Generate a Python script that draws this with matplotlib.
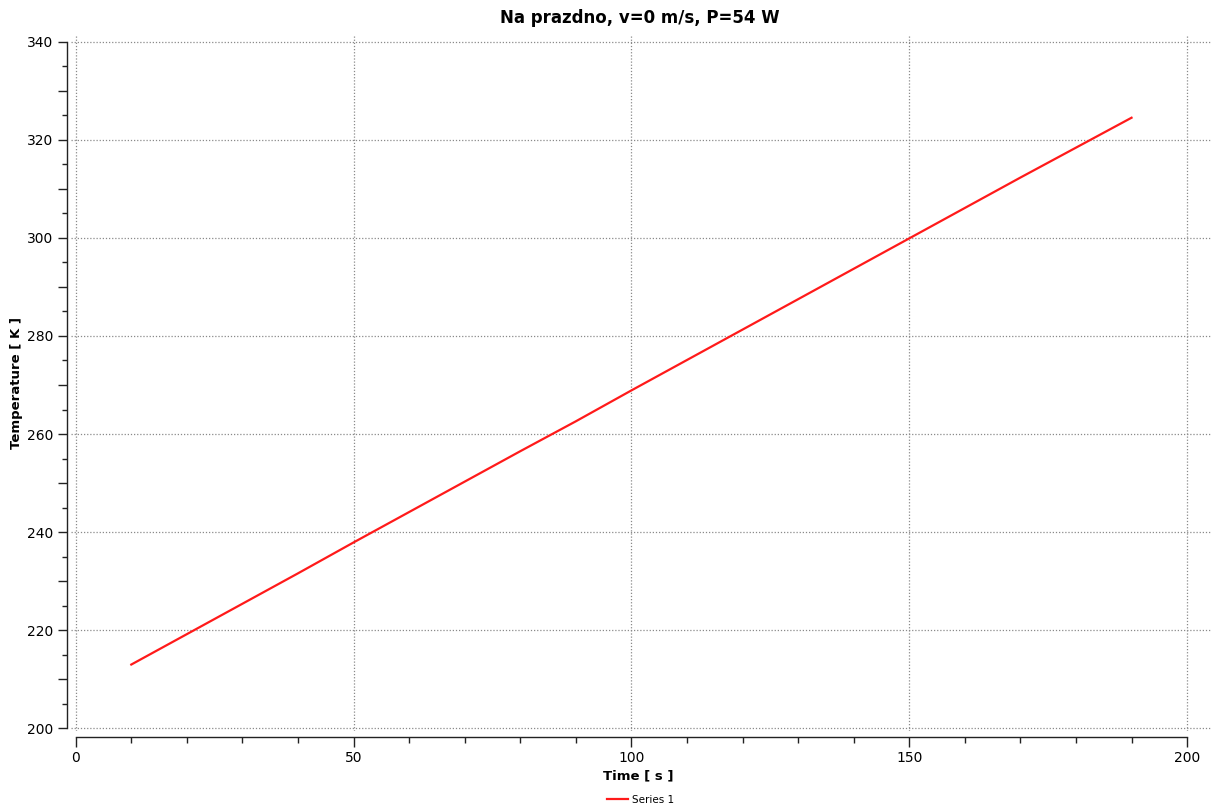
import matplotlib
matplotlib.use("Agg")
import matplotlib.pyplot as plt
from matplotlib.ticker import MultipleLocator, FuncFormatter

# Heating curve, no airflow
time_s = [10, 20, 30, 40, 50, 60, 70, 80, 90, 100,
          110, 120, 130, 140, 150, 160, 170, 180, 190]
temperature_k = [213.0, 219.2, 225.4, 231.6, 237.9, 244.1, 250.3, 256.5, 262.6, 268.9,
                 275.1, 281.3, 287.5, 293.7, 299.9, 306.1, 312.3, 318.4, 324.5]

title = "Na prazdno, v=0 m/s, P=54 W"
x_label = "Time [ s ]"
y_label = "Temperature [ K ]"
series_name = "Series 1"

plt.rcParams['font.family'] = ['DejaVu Sans']

fig = plt.figure(figsize=(12.11, 8.07), dpi=100)
ax = fig.add_axes([71 / 1211, 76 / 807, 1140 / 1211, 696 / 807])

ax.plot(time_s, temperature_k, color='#ff1a1a', lw=1.6, label=series_name)

ax.set_xlim(-0.85, 204.3)
ax.set_ylim(199.45, 341.37)

ax.xaxis.set_major_locator(MultipleLocator(50))
ax.xaxis.set_minor_locator(MultipleLocator(10))
ax.yaxis.set_major_locator(MultipleLocator(10))
ax.yaxis.set_minor_locator(MultipleLocator(5))
ax.yaxis.set_major_formatter(FuncFormatter(lambda v, p: f"{v:.0f}" if round(v) % 20 == 0 else ""))

for side in ('top', 'right'):
    ax.spines[side].set_visible(False)
ax.spines['left'].set_position(('outward', 3.1))
ax.spines['bottom'].set_position(('outward', 4.3))
ax.spines['left'].set_bounds(200, 340)
ax.spines['bottom'].set_bounds(0, 200)
for side in ('left', 'bottom'):
    ax.spines[side].set_color('#222222')
    ax.spines[side].set_linewidth(1.0)

ax.tick_params(axis='x', which='major', length=7.2, width=1, color='#222222',
               labelsize=10, pad=3.0)
ax.tick_params(axis='x', which='minor', length=4.0, width=1, color='#222222')
ax.tick_params(axis='y', which='major', length=6.5, width=1, color='#222222',
               labelsize=10, pad=3.0)
ax.tick_params(axis='y', which='minor', length=3.4, width=1, color='#222222')

# Grid only on the labelled values
for xv in range(0, 201, 50):
    ax.axvline(xv, color='#8a8a8a', lw=0.9, ls=(0, (1, 1.5)), zorder=0)
for yv in range(200, 341, 20):
    ax.axhline(yv, color='#8a8a8a', lw=0.9, ls=(0, (1, 1.5)), zorder=0)

fig.text(0.528, 0.978, title, ha='center', va='center', fontsize=12, fontweight='bold')
fig.text(0.527, 0.039, x_label, ha='center', va='center', fontsize=9.5, fontweight='bold')
fig.text(0.014, 0.525, y_label, ha='center', va='center', fontsize=9.5,
         fontweight='bold', rotation=90)

fig.legend(loc='center', bbox_to_anchor=(0.529, 0.009), frameon=False, fontsize=7.5,
           handlelength=2.0, handletextpad=0.4, borderpad=0)

fig.savefig("out.png", dpi=100)
